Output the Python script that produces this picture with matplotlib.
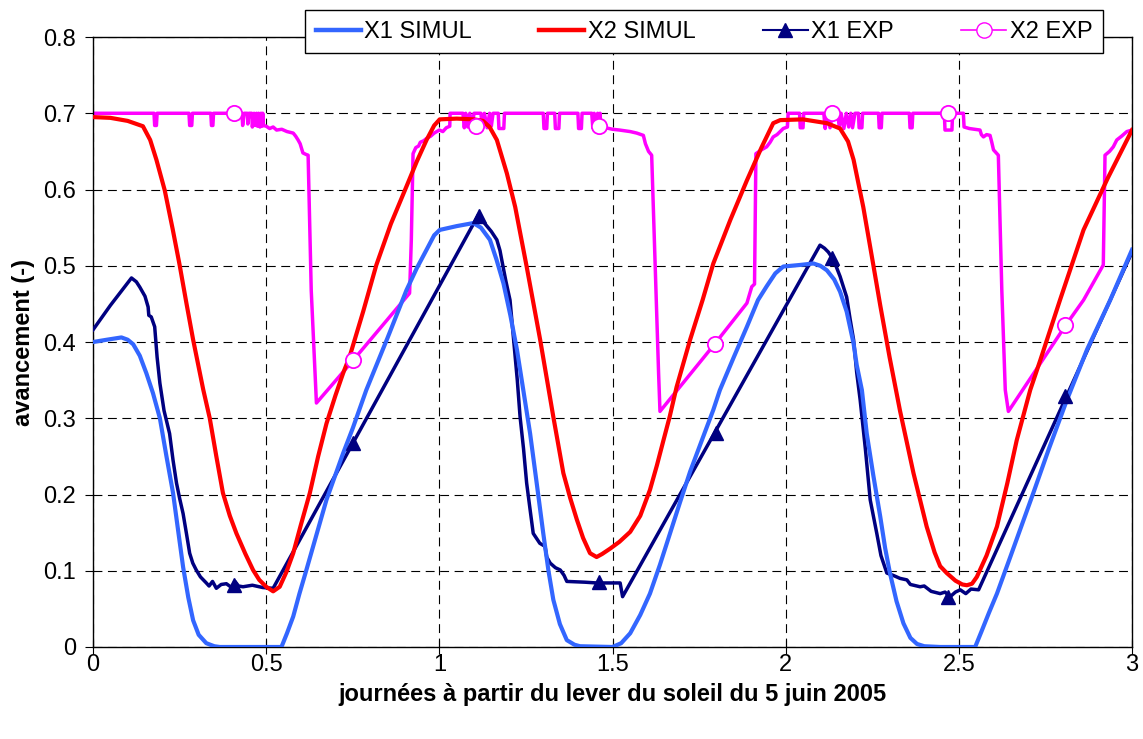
import matplotlib.pyplot as plt
from matplotlib.lines import Line2D

plt.rcParams['font.family'] = ['Liberation Sans', 'DejaVu Sans']

# X1 SIMUL (bleu clair)
x1_sim_x = [0, 0.04, 0.082, 0.10, 0.116, 0.135, 0.154, 0.173, 0.193, 0.212, 0.231, 0.245,
            0.260, 0.275, 0.289, 0.305, 0.327, 0.35, 0.366, 0.544, 0.56, 0.578, 0.596, 0.616,
            0.645, 0.674, 0.70, 0.722, 0.75, 0.789, 0.85, 0.905, 0.935, 0.963, 0.985, 1.001,
            1.05, 1.098, 1.12, 1.146, 1.165, 1.185, 1.205, 1.224, 1.243, 1.262, 1.281, 1.300,
            1.315, 1.329, 1.348, 1.368, 1.39, 1.406, 1.50, 1.525, 1.551, 1.58, 1.608, 1.637,
            1.666, 1.695, 1.724, 1.757, 1.791, 1.81, 1.85, 1.888, 1.92, 1.945, 1.97, 1.993,
            2.04, 2.08, 2.10, 2.119, 2.14, 2.157, 2.176, 2.196, 2.205, 2.22, 2.234, 2.253,
            2.273, 2.287, 2.301, 2.32, 2.340, 2.36, 2.379, 2.40, 2.446, 2.547, 2.565, 2.587,
            2.610, 2.65, 2.715, 2.76, 2.812, 2.87, 2.937, 3.0]
x1_sim_y = [0.400, 0.403, 0.406, 0.403, 0.397, 0.382, 0.359, 0.333, 0.300, 0.250, 0.202, 0.155,
            0.105, 0.065, 0.035, 0.016, 0.005, 0.001, 0.0, 0.0, 0.018, 0.040, 0.070, 0.101,
            0.147, 0.193, 0.226, 0.254, 0.287, 0.337, 0.405, 0.468, 0.497, 0.521, 0.540, 0.547,
            0.552, 0.556, 0.550, 0.534, 0.508, 0.477, 0.435, 0.390, 0.335, 0.280, 0.215, 0.149,
            0.100, 0.062, 0.030, 0.009, 0.003, 0.001, 0.0, 0.005, 0.018, 0.042, 0.070, 0.108,
            0.149, 0.190, 0.230, 0.270, 0.311, 0.337, 0.380, 0.420, 0.455, 0.473, 0.490, 0.499,
            0.501, 0.503, 0.500, 0.494, 0.482, 0.466, 0.440, 0.398, 0.370, 0.337, 0.280, 0.225,
            0.171, 0.130, 0.097, 0.060, 0.031, 0.012, 0.004, 0.001, 0.0, 0.0, 0.020, 0.045,
            0.070, 0.120, 0.202, 0.260, 0.324, 0.390, 0.455, 0.521]

# X2 SIMUL (rouge)
x2_sim_x = [0, 0.05, 0.10, 0.144, 0.165, 0.183, 0.207, 0.23, 0.25, 0.27, 0.289, 0.318, 0.337,
            0.356, 0.375, 0.395, 0.414, 0.44, 0.462, 0.48, 0.50, 0.52, 0.539, 0.558, 0.578,
            0.60, 0.626, 0.65, 0.674, 0.70, 0.722, 0.741, 0.78, 0.818, 0.86, 0.905, 0.935,
            0.963, 0.985, 1.001, 1.05, 1.10, 1.126, 1.145, 1.166, 1.195, 1.219, 1.252, 1.291,
            1.329, 1.358, 1.378, 1.397, 1.415, 1.435, 1.454, 1.47, 1.493, 1.52, 1.551, 1.58,
            1.608, 1.628, 1.647, 1.665, 1.685, 1.724, 1.76, 1.791, 1.84, 1.888, 1.93, 1.964,
            1.984, 2.05, 2.119, 2.157, 2.18, 2.196, 2.224, 2.253, 2.273, 2.30, 2.33, 2.369,
            2.407, 2.43, 2.446, 2.465, 2.49, 2.51, 2.523, 2.538, 2.552, 2.58, 2.61, 2.64,
            2.667, 2.706, 2.735, 2.792, 2.86, 2.93, 3.0]
x2_sim_y = [0.695, 0.694, 0.690, 0.683, 0.665, 0.639, 0.599, 0.548, 0.501, 0.450, 0.403, 0.338,
            0.300, 0.250, 0.202, 0.172, 0.149, 0.122, 0.101, 0.088, 0.079, 0.073, 0.079, 0.098,
            0.123, 0.160, 0.202, 0.250, 0.293, 0.330, 0.359, 0.381, 0.440, 0.501, 0.555, 0.604,
            0.637, 0.665, 0.684, 0.692, 0.693, 0.692, 0.690, 0.682, 0.665, 0.621, 0.577, 0.499,
            0.403, 0.302, 0.228, 0.195, 0.167, 0.143, 0.123, 0.118, 0.122, 0.129, 0.138, 0.151,
            0.172, 0.206, 0.238, 0.271, 0.302, 0.341, 0.403, 0.455, 0.503, 0.560, 0.612, 0.655,
            0.687, 0.691, 0.692, 0.687, 0.680, 0.663, 0.639, 0.577, 0.501, 0.448, 0.380, 0.310,
            0.228, 0.158, 0.124, 0.106, 0.097, 0.087, 0.082, 0.081, 0.083, 0.092, 0.120, 0.158,
            0.215, 0.271, 0.337, 0.376, 0.455, 0.547, 0.615, 0.678]

# X1 EXP (bleu marine)
x1_exp_x = [0, 0.05, 0.111, 0.125, 0.135, 0.150, 0.159, 0.161, 0.168, 0.178, 0.185, 0.193,
            0.205, 0.221, 0.231, 0.241, 0.250, 0.260, 0.270, 0.279, 0.288, 0.298, 0.31, 0.327,
            0.335, 0.345, 0.356, 0.37, 0.385, 0.40, 0.41, 0.42, 0.433, 0.46, 0.49, 0.52,
            1.113, 1.13, 1.15, 1.166, 1.175, 1.180, 1.192, 1.204, 1.215, 1.225, 1.233, 1.243,
            1.252, 1.262, 1.271, 1.29, 1.305, 1.31, 1.320, 1.335, 1.349, 1.36, 1.368, 1.42,
            1.454, 1.522, 1.529, 2.099, 2.112, 2.123, 2.138, 2.157, 2.176, 2.186, 2.196, 2.205,
            2.215, 2.23, 2.244, 2.263, 2.275, 2.292, 2.31, 2.33, 2.35, 2.36, 2.388, 2.40,
            2.42, 2.446, 2.46, 2.475, 2.49, 2.504, 2.52, 2.535, 2.557, 3.0]
x1_exp_y = [0.416, 0.448, 0.484, 0.479, 0.472, 0.460, 0.446, 0.435, 0.433, 0.420, 0.380, 0.346,
            0.310, 0.280, 0.245, 0.215, 0.195, 0.175, 0.148, 0.123, 0.110, 0.101, 0.092, 0.084,
            0.080, 0.086, 0.077, 0.082, 0.083, 0.078, 0.086, 0.080, 0.079, 0.081, 0.078, 0.077,
            0.567, 0.556, 0.545, 0.534, 0.520, 0.508, 0.480, 0.455, 0.400, 0.350, 0.302, 0.260,
            0.215, 0.180, 0.149, 0.136, 0.132, 0.118, 0.110, 0.104, 0.101, 0.094, 0.086, 0.085,
            0.084, 0.084, 0.066, 0.527, 0.523, 0.518, 0.508, 0.486, 0.459, 0.430, 0.403, 0.360,
            0.324, 0.260, 0.193, 0.149, 0.120, 0.097, 0.094, 0.090, 0.088, 0.082, 0.079, 0.080,
            0.073, 0.070, 0.072, 0.066, 0.072, 0.075, 0.070, 0.076, 0.075, 0.518]
x1_mark_x = [0.407, 0.751, 1.115, 1.461, 1.799, 2.135, 2.469, 2.807]
x1_mark_y = [0.081, 0.268, 0.565, 0.085, 0.281, 0.510, 0.066, 0.329]

# X2 EXP (magenta)
x2_exp_x = [0, 0.176, 0.178, 0.183, 0.185, 0.277, 0.279, 0.285, 0.287, 0.340, 0.342, 0.346,
            0.348, 0.430, 0.432, 0.436, 0.445, 0.447, 0.450, 0.458, 0.46, 0.465, 0.468, 0.472,
            0.475, 0.478, 0.482, 0.485, 0.488, 0.490, 0.492, 0.50, 0.51, 0.52, 0.53, 0.545,
            0.56, 0.578, 0.585, 0.592, 0.598, 0.606, 0.615, 0.621, 0.630, 0.645, 0.751, 0.914,
            0.919, 0.924, 0.932, 0.94, 0.945, 0.955, 0.963, 0.975, 0.985, 1.0, 1.01, 1.02,
            1.03, 1.031, 1.068, 1.072, 1.076, 1.082, 1.088, 1.094, 1.10, 1.12, 1.124, 1.13,
            1.138, 1.145, 1.15, 1.155, 1.17, 1.172, 1.186, 1.188, 1.300, 1.302, 1.31, 1.312,
            1.333, 1.335, 1.345, 1.347, 1.40, 1.402, 1.41, 1.412, 1.44, 1.443, 1.447, 1.452,
            1.457, 1.462, 1.464, 1.466, 1.48, 1.50, 1.52, 1.551, 1.57, 1.589, 1.595, 1.604,
            1.613, 1.618, 1.633, 1.637, 1.796, 1.888, 1.902, 1.91, 1.914, 1.93, 1.945, 1.955,
            1.964, 1.975, 1.993, 2.005, 2.007, 2.04, 2.042, 2.05, 2.052, 2.11, 2.114, 2.12,
            2.128, 2.135, 2.15, 2.155, 2.16, 2.168, 2.175, 2.182, 2.188, 2.193, 2.20, 2.21,
            2.212, 2.22, 2.222, 2.268, 2.27, 2.276, 2.278, 2.357, 2.359, 2.365, 2.367, 2.458,
            2.46, 2.48, 2.482, 2.513, 2.515, 2.53, 2.545, 2.561, 2.565, 2.571, 2.58, 2.59,
            2.595, 2.60, 2.614, 2.624, 2.634, 2.643, 2.81, 2.86, 2.917, 2.922, 2.935, 2.946,
            2.956, 2.97, 2.985, 3.0]
x2_exp_y = [0.700, 0.700, 0.684, 0.684, 0.700, 0.700, 0.684, 0.684, 0.700, 0.700, 0.684, 0.684,
            0.700, 0.700, 0.684, 0.700, 0.700, 0.686, 0.700, 0.700, 0.682, 0.700, 0.684, 0.700,
            0.683, 0.700, 0.682, 0.700, 0.683, 0.700, 0.684, 0.683, 0.680, 0.682, 0.678, 0.679,
            0.676, 0.674, 0.670, 0.665, 0.660, 0.648, 0.646, 0.645, 0.468, 0.320, 0.376, 0.464,
            0.534, 0.647, 0.655, 0.657, 0.662, 0.664, 0.667, 0.670, 0.674, 0.678, 0.676, 0.681,
            0.683, 0.700, 0.700, 0.681, 0.700, 0.682, 0.700, 0.680, 0.700, 0.700, 0.682, 0.700,
            0.681, 0.700, 0.683, 0.700, 0.700, 0.680, 0.680, 0.700, 0.700, 0.680, 0.680, 0.700,
            0.700, 0.680, 0.680, 0.700, 0.700, 0.680, 0.680, 0.700, 0.700, 0.681, 0.700, 0.680,
            0.700, 0.682, 0.700, 0.683, 0.681, 0.679, 0.678, 0.676, 0.674, 0.671, 0.660, 0.650,
            0.645, 0.573, 0.359, 0.309, 0.398, 0.451, 0.4725, 0.476, 0.647, 0.652, 0.656, 0.662,
            0.669, 0.672, 0.680, 0.682, 0.700, 0.700, 0.681, 0.681, 0.700, 0.700, 0.680, 0.700,
            0.681, 0.700, 0.700, 0.681, 0.700, 0.680, 0.700, 0.682, 0.700, 0.681, 0.700, 0.700,
            0.681, 0.681, 0.700, 0.700, 0.681, 0.681, 0.700, 0.700, 0.681, 0.681, 0.700, 0.700,
            0.678, 0.678, 0.700, 0.700, 0.682, 0.680, 0.679, 0.678, 0.672, 0.669, 0.672, 0.671,
            0.662, 0.652, 0.645, 0.468, 0.337, 0.309, 0.423, 0.455, 0.501, 0.645, 0.650, 0.656,
            0.665, 0.670, 0.676, 0.678]
x2_mark_x = [0.407, 0.751, 1.105, 1.462, 1.796, 2.135, 2.470, 2.807]
x2_mark_y = [0.701, 0.376, 0.683, 0.683, 0.398, 0.701, 0.701, 0.422]

labels = ["X1 SIMUL", "X2 SIMUL", "X1 EXP", "X2 EXP"]
x_ticks = [0, 0.5, 1, 1.5, 2, 2.5, 3]
x_tick_labels = ["0", "0.5", "1", "1.5", "2", "2.5", "3"]
y_ticks = [0, 0.1, 0.2, 0.3, 0.4, 0.5, 0.6, 0.7, 0.8]
y_tick_labels = ["0", "0.1", "0.2", "0.3", "0.4", "0.5", "0.6", "0.7", "0.8"]

c_x1s = '#3366FF'
c_x2s = '#FF0000'
c_x1e = '#000080'
c_x2e = '#FF00FF'

fig = plt.figure(figsize=(11.43, 7.39), dpi=100)
ax = fig.add_axes([0.0814, 0.1245, 0.909, 0.8254])

ax.plot(x2_exp_x, x2_exp_y, color=c_x2e, lw=2.5, zorder=2)
ax.plot(x1_exp_x, x1_exp_y, color=c_x1e, lw=2.5, zorder=3)
ax.plot(x1_sim_x, x1_sim_y, color=c_x1s, lw=3.0, zorder=4)
ax.plot(x2_sim_x, x2_sim_y, color=c_x2s, lw=3.0, zorder=5)
ax.plot(x1_mark_x, x1_mark_y, ls='none', marker='^', ms=10, color=c_x1e, zorder=6)
ax.plot(x2_mark_x, x2_mark_y, ls='none', marker='o', ms=11, mfc='white', mec=c_x2e,
        mew=1.3, zorder=6)

ax.set_xlim(0, 3)
ax.set_ylim(0, 0.8)
ax.set_xticks(x_ticks)
ax.set_xticklabels(x_tick_labels, fontsize=17)
ax.set_yticks(y_ticks)
ax.set_yticklabels(y_tick_labels, fontsize=17)
ax.tick_params(axis='x', direction='inout', length=10, width=0.8, pad=0)
ax.tick_params(axis='y', direction='out', length=6, width=0.8, pad=6)

ax.set_axisbelow(True)
ax.grid(True, color='black', lw=0.8, ls=(0, (8, 5)))
for s in ax.spines.values():
    s.set_linewidth(1.0)
    s.set_color('black')

ax.set_xlabel("journées à partir du lever du soleil du 5 juin 2005", fontsize=17,
              fontweight='bold', labelpad=5)
ax.set_ylabel("avancement (-)", fontsize=17, fontweight='bold', labelpad=6)

handles = [
    Line2D([], [], color=c_x1s, lw=3.2),
    Line2D([], [], color=c_x2s, lw=3.2),
    Line2D([], [], color=c_x1e, lw=1.5, marker='^', ms=10),
    Line2D([], [], color=c_x2e, lw=1.2, marker='o', ms=11, mfc='white', mec=c_x2e),
]
leg = fig.legend(handles, labels, loc='center', bbox_to_anchor=(0.616, 0.957),
                 ncol=4, frameon=True, fancybox=False, edgecolor='black',
                 framealpha=1, fontsize=17, handlelength=1.9, handletextpad=0.15,
                 columnspacing=2.85, borderpad=0.45, borderaxespad=0)
leg.get_frame().set_linewidth(1.0)

fig.savefig("out.png", dpi=100)
